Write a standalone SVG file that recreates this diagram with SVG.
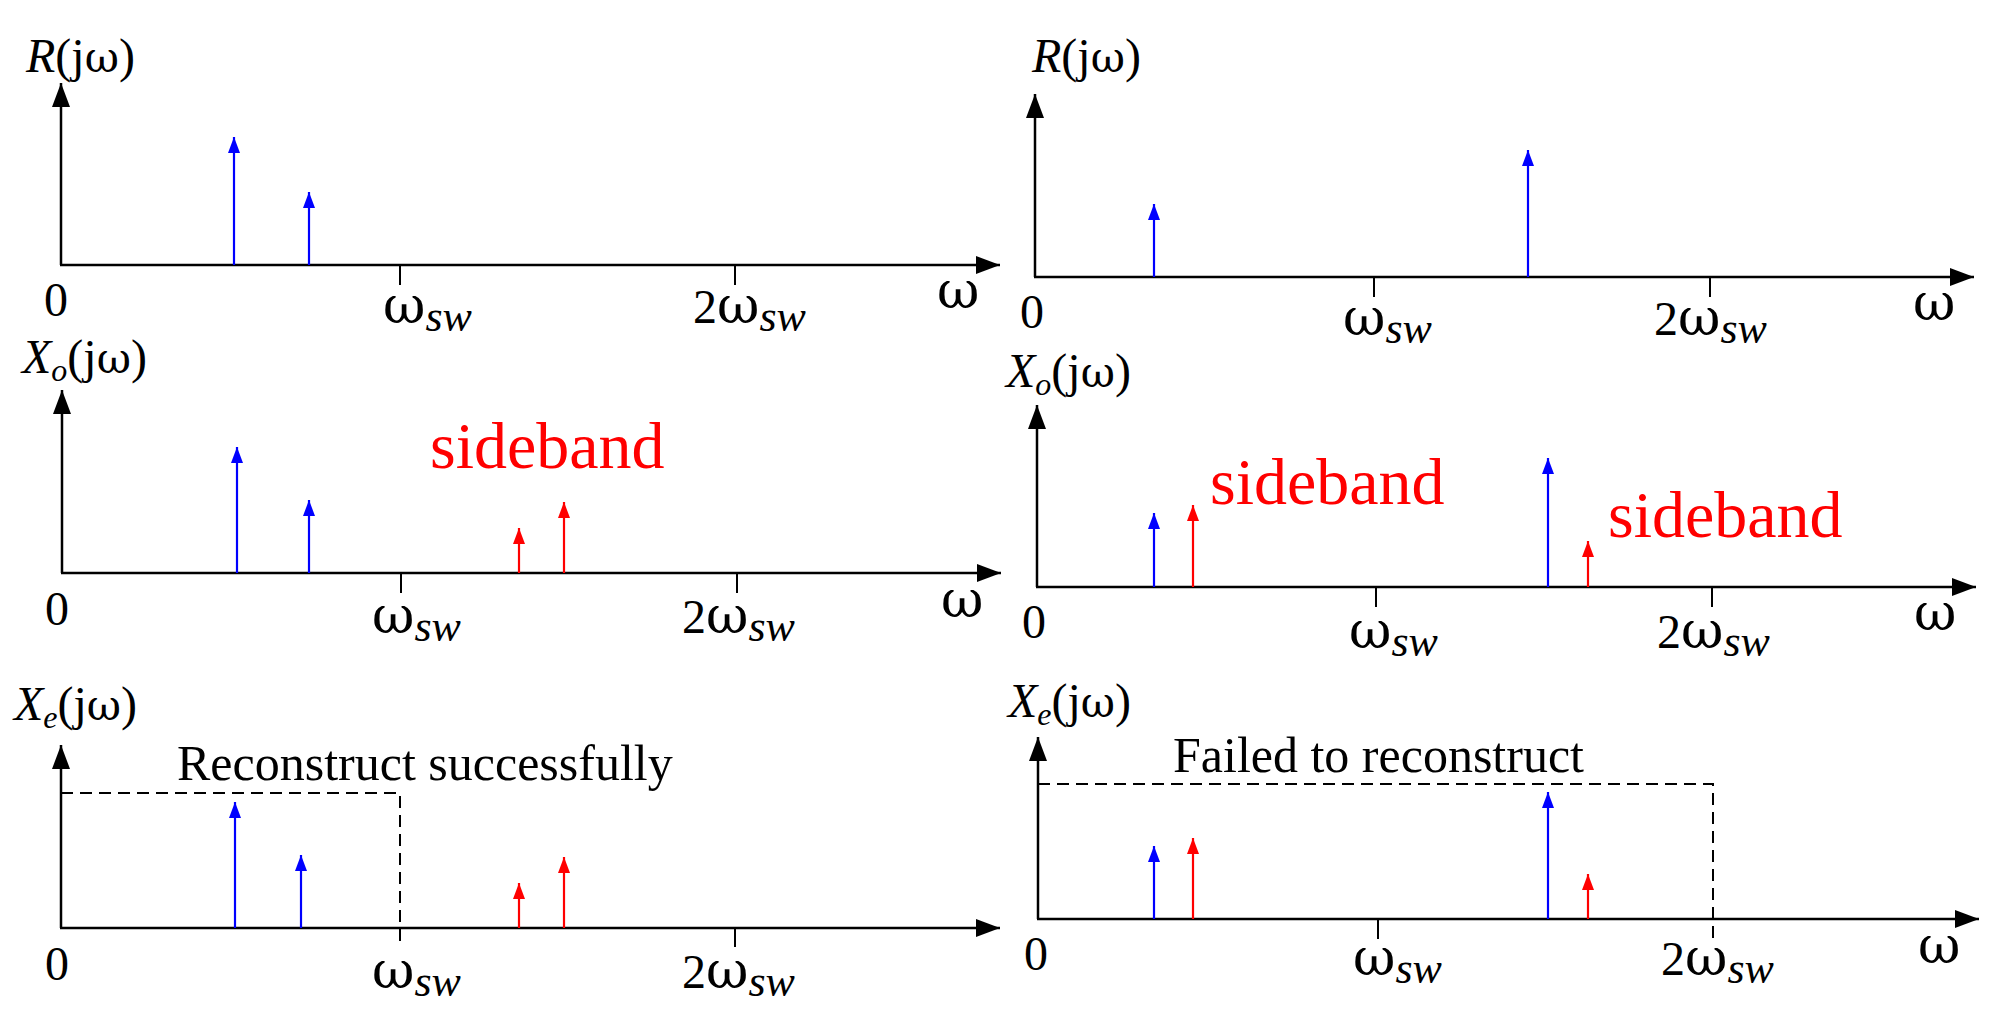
<svg xmlns="http://www.w3.org/2000/svg" width="2012" height="1020" viewBox="0 0 2012 1020">
<style>
text{font-family:"Liberation Serif","Times New Roman",serif;fill:#000}
.lab{font-size:48px}
.tk{font-size:48px}
.w{font-size:52px;font-family:"DejaVu Serif",serif}
.wl{font-family:"DejaVu Serif",serif;font-size:42px}
.sub{font-size:32px;font-style:italic}
.ss{font-size:44px;font-style:italic;font-family:"Liberation Serif","Times New Roman",serif}
.it{font-style:italic}
.red{fill:#ff0000}
.ax{stroke:#000;stroke-width:2.5;fill:none}
.tick{stroke:#000;stroke-width:2;fill:none}
.b{stroke:#0000ff;stroke-width:2.2;marker-end:url(#mb)}
.r{stroke:#ff0000;stroke-width:2.2;marker-end:url(#mr)}
.dash{stroke:#000;stroke-width:2;fill:none;stroke-dasharray:12 7}
</style>
<defs>
<marker id="ma" viewBox="0 0 24 18" refX="24" refY="9" markerWidth="24" markerHeight="18" markerUnits="userSpaceOnUse" orient="auto"><path d="M0,0 L24,9 L0,18 z" fill="#000"/></marker>
<marker id="mb" viewBox="0 0 16 12" refX="16" refY="6" markerWidth="16" markerHeight="12" markerUnits="userSpaceOnUse" orient="auto"><path d="M0,0 L16,6 L0,12 z" fill="#0000ff"/></marker>
<marker id="mr" viewBox="0 0 16 12" refX="16" refY="6" markerWidth="16" markerHeight="12" markerUnits="userSpaceOnUse" orient="auto"><path d="M0,0 L16,6 L0,12 z" fill="#ff0000"/></marker>
</defs>

<g id="p1">
<line class="ax" x1="61" y1="265" x2="61" y2="83" marker-end="url(#ma)"/>
<line class="ax" x1="60" y1="265" x2="1000" y2="265" marker-end="url(#ma)"/>
<line class="tick" x1="400" y1="265" x2="400" y2="285"/>
<line class="tick" x1="735" y1="265" x2="735" y2="285"/>
<line class="b" x1="234" y1="265" x2="234" y2="137"/>
<line class="b" x1="309" y1="265" x2="309" y2="192"/>
<text class="lab" x="26" y="72"><tspan class="it">R</tspan>(j<tspan class="wl">ω</tspan>)</text>
<text class="tk" x="44" y="316">0</text>
<text class="w" x="383" y="323">ω<tspan class="ss" dy="8">sw</tspan></text>
<text class="tk" x="693" y="323">2<tspan class="w">ω</tspan><tspan class="ss" dy="8">sw</tspan></text>
<text class="w" x="937" y="308">ω</text>
</g>

<g id="p2">
<line class="ax" x1="1035" y1="277" x2="1035" y2="94" marker-end="url(#ma)"/>
<line class="ax" x1="1034" y1="277" x2="1974" y2="277" marker-end="url(#ma)"/>
<line class="tick" x1="1374" y1="277" x2="1374" y2="297"/>
<line class="tick" x1="1710" y1="277" x2="1710" y2="297"/>
<line class="b" x1="1154" y1="277" x2="1154" y2="204"/>
<line class="b" x1="1528" y1="277" x2="1528" y2="150"/>
<text class="lab" x="1032" y="72"><tspan class="it">R</tspan>(j<tspan class="wl">ω</tspan>)</text>
<text class="tk" x="1020" y="328">0</text>
<text class="w" x="1343" y="335">ω<tspan class="ss" dy="8">sw</tspan></text>
<text class="tk" x="1654" y="335">2<tspan class="w">ω</tspan><tspan class="ss" dy="8">sw</tspan></text>
<text class="w" x="1913" y="320">ω</text>
</g>

<g id="p3">
<line class="ax" x1="62" y1="573" x2="62" y2="390" marker-end="url(#ma)"/>
<line class="ax" x1="61" y1="573" x2="1001" y2="573" marker-end="url(#ma)"/>
<line class="tick" x1="401" y1="573" x2="401" y2="593"/>
<line class="tick" x1="737" y1="573" x2="737" y2="593"/>
<line class="b" x1="237" y1="573" x2="237" y2="447"/>
<line class="b" x1="309" y1="573" x2="309" y2="500"/>
<line class="r" x1="519" y1="573" x2="519" y2="528"/>
<line class="r" x1="564" y1="573" x2="564" y2="502"/>
<text class="lab" x="22" y="373"><tspan class="it">X</tspan><tspan class="sub" dy="8">o</tspan><tspan dy="-8">(j</tspan><tspan class="wl">ω</tspan>)</text>
<text class="red" x="430" y="468" font-size="66">sideband</text>
<text class="tk" x="45" y="625">0</text>
<text class="w" x="372" y="633">ω<tspan class="ss" dy="8">sw</tspan></text>
<text class="tk" x="682" y="633">2<tspan class="w">ω</tspan><tspan class="ss" dy="8">sw</tspan></text>
<text class="w" x="941" y="617">ω</text>
</g>

<g id="p4">
<line class="ax" x1="1037" y1="587" x2="1037" y2="405" marker-end="url(#ma)"/>
<line class="ax" x1="1036" y1="587" x2="1976" y2="587" marker-end="url(#ma)"/>
<line class="tick" x1="1376" y1="587" x2="1376" y2="607"/>
<line class="tick" x1="1712" y1="587" x2="1712" y2="607"/>
<line class="b" x1="1154" y1="587" x2="1154" y2="513"/>
<line class="r" x1="1193" y1="587" x2="1193" y2="505"/>
<line class="b" x1="1548" y1="587" x2="1548" y2="458"/>
<line class="r" x1="1588" y1="587" x2="1588" y2="541"/>
<text class="lab" x="1006" y="387"><tspan class="it">X</tspan><tspan class="sub" dy="8">o</tspan><tspan dy="-8">(j</tspan><tspan class="wl">ω</tspan>)</text>
<text class="red" x="1210" y="504" font-size="66">sideband</text>
<text class="red" x="1608" y="537" font-size="66">sideband</text>
<text class="tk" x="1022" y="638">0</text>
<text class="w" x="1349" y="648">ω<tspan class="ss" dy="8">sw</tspan></text>
<text class="tk" x="1657" y="648">2<tspan class="w">ω</tspan><tspan class="ss" dy="8">sw</tspan></text>
<text class="w" x="1914" y="630">ω</text>
</g>

<g id="p5">
<line class="ax" x1="61" y1="928" x2="61" y2="745" marker-end="url(#ma)"/>
<line class="ax" x1="60" y1="928" x2="1000" y2="928" marker-end="url(#ma)"/>
<line class="tick" x1="735" y1="928" x2="735" y2="947"/>
<path class="dash" d="M61,793 H400 V948"/>
<line class="b" x1="235" y1="928" x2="235" y2="802"/>
<line class="b" x1="301" y1="928" x2="301" y2="855"/>
<line class="r" x1="519" y1="928" x2="519" y2="883"/>
<line class="r" x1="564" y1="928" x2="564" y2="857"/>
<text class="lab" x="14" y="720"><tspan class="it">X</tspan><tspan class="sub" dy="8">e</tspan><tspan dy="-8">(j</tspan><tspan class="wl">ω</tspan>)</text>
<text x="177" y="780" font-size="50">Reconstruct successfully</text>
<text class="tk" x="45" y="980">0</text>
<text class="w" x="372" y="988">ω<tspan class="ss" dy="8">sw</tspan></text>
<text class="tk" x="682" y="988">2<tspan class="w">ω</tspan><tspan class="ss" dy="8">sw</tspan></text>
</g>

<g id="p6">
<line class="ax" x1="1038" y1="919" x2="1038" y2="737" marker-end="url(#ma)"/>
<line class="ax" x1="1037" y1="919" x2="1979" y2="919" marker-end="url(#ma)"/>
<line class="tick" x1="1378" y1="919" x2="1378" y2="939"/>
<path class="dash" d="M1038,784 H1713 V938"/>
<line class="b" x1="1154" y1="919" x2="1154" y2="846"/>
<line class="r" x1="1193" y1="919" x2="1193" y2="838"/>
<line class="b" x1="1548" y1="919" x2="1548" y2="792"/>
<line class="r" x1="1588" y1="919" x2="1588" y2="874"/>
<text class="lab" x="1008" y="717"><tspan class="it">X</tspan><tspan class="sub" dy="8">e</tspan><tspan dy="-8">(j</tspan><tspan class="wl">ω</tspan>)</text>
<text x="1173" y="772" font-size="50">Failed to reconstruct</text>
<text class="tk" x="1024" y="970">0</text>
<text class="w" x="1353" y="975">ω<tspan class="ss" dy="8">sw</tspan></text>
<text class="tk" x="1661" y="975">2<tspan class="w">ω</tspan><tspan class="ss" dy="8">sw</tspan></text>
<text class="w" x="1918" y="963">ω</text>
</g>
</svg>
